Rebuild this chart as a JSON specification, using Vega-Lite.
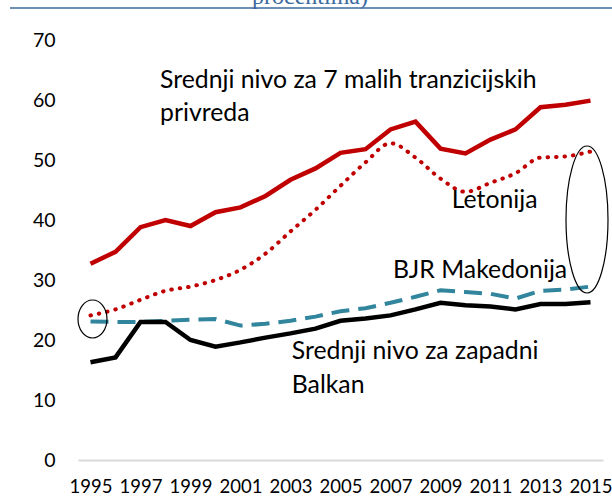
{
  "$schema": "https://vega.github.io/schema/vega-lite/v6.json",
  "autosize": "none",
  "width": 525,
  "height": 420,
  "padding": {"left": 78, "top": 40, "right": 9, "bottom": 38},
  "background": "white",
  "config": {"view": {"stroke": null}},
  "datasets": {
    "series": [
      {"year": 1995, "tranz": 32.7, "let": 24.1, "mkd": 23.1, "zb": 16.3},
      {"year": 1996, "tranz": 34.7, "let": 25.1, "mkd": 23.0, "zb": 17.1},
      {"year": 1997, "tranz": 38.8, "let": 26.7, "mkd": 23.0, "zb": 23.0},
      {"year": 1998, "tranz": 40.0, "let": 28.2, "mkd": 23.2, "zb": 23.0},
      {"year": 1999, "tranz": 39.0, "let": 28.9, "mkd": 23.4, "zb": 20.0},
      {"year": 2000, "tranz": 41.3, "let": 30.0, "mkd": 23.5, "zb": 18.9},
      {"year": 2001, "tranz": 42.1, "let": 31.7, "mkd": 22.4, "zb": 19.6},
      {"year": 2002, "tranz": 44.0, "let": 34.4, "mkd": 22.7, "zb": 20.4},
      {"year": 2003, "tranz": 46.7, "let": 38.1, "mkd": 23.2, "zb": 21.1},
      {"year": 2004, "tranz": 48.6, "let": 41.7, "mkd": 23.9, "zb": 21.9},
      {"year": 2005, "tranz": 51.2, "let": 45.7, "mkd": 24.8, "zb": 23.2},
      {"year": 2006, "tranz": 51.8, "let": 49.6, "mkd": 25.3, "zb": 23.6},
      {"year": 2007, "tranz": 55.1, "let": 52.8, "mkd": 26.2, "zb": 24.1},
      {"year": 2008, "tranz": 56.4, "let": 50.4, "mkd": 27.2, "zb": 25.1},
      {"year": 2009, "tranz": 51.9, "let": 46.9, "mkd": 28.3, "zb": 26.2},
      {"year": 2010, "tranz": 51.1, "let": 44.7, "mkd": 28.0, "zb": 25.8},
      {"year": 2011, "tranz": 53.4, "let": 46.2, "mkd": 27.7, "zb": 25.6},
      {"year": 2012, "tranz": 55.1, "let": 47.8, "mkd": 26.9, "zb": 25.1},
      {"year": 2013, "tranz": 58.8, "let": 50.4, "mkd": 28.2, "zb": 26.0},
      {"year": 2014, "tranz": 59.2, "let": 50.6, "mkd": 28.4, "zb": 26.0},
      {"year": 2015, "tranz": 59.9, "let": 51.4, "mkd": 28.9, "zb": 26.3}
    ],
    "notes": [
      {"id": "a", "label": "Srednji nivo za 7 malih tranzicijskih", "year": 1997.78, "val": 61.95},
      {"id": "a", "label": "privreda", "year": 1997.78, "val": 56.45},
      {"id": "a", "label": "Srednji nivo za zapadni", "year": 2003.05, "val": 16.83},
      {"id": "a", "label": "Balkan", "year": 2003.05, "val": 11.2},
      {"id": "a", "label": "Letonija", "year": 2009.45, "val": 42.0},
      {"id": "a", "label": "BJR Makedonija", "year": 2007.1, "val": 30.28},
      {"id": "t", "label": "procentima)", "year": 2003.78, "val": 76}
    ],
    "one": [{"k": 1}]
  },
  "layer": [
    {
      "data": {"name": "series"},
      "mark": {"type": "line", "color": "#31859c", "strokeWidth": 4, "strokeDash": [18, 9]},
      "encoding": {
        "x": {
          "field": "year", "type": "quantitative",
          "scale": {"domain": [1994.5, 2015.5], "nice": false, "zero": false},
          "axis": {
            "title": null, "grid": false, "ticks": false,
            "domainColor": "#d9d9d9", "domainWidth": 2,
            "values": [1995, 1997, 1999, 2001, 2003, 2005, 2007, 2009, 2011, 2013, 2015],
            "format": "d", "labelFlush": false, "labelOverlap": false,
            "labelFontSize": 18.5, "labelColor": "#000000", "labelPadding": 17, "labelFont": "Lato"
          }
        },
        "y": {
          "field": "mkd", "type": "quantitative",
          "scale": {"domain": [0, 70], "nice": false},
          "axis": {
            "title": null, "grid": false, "ticks": false, "domain": false,
            "values": [0, 10, 20, 30, 40, 50, 60, 70], "labelFlush": false,
            "labelFontSize": 19.5, "labelColor": "#000000", "labelPadding": 23, "labelFont": "Lato"
          }
        }
      }
    },
    {
      "data": {"name": "series"},
      "mark": {"type": "line", "color": "#000000", "strokeWidth": 4.5},
      "encoding": {"x": {"field": "year", "type": "quantitative"}, "y": {"field": "zb", "type": "quantitative"}}
    },
    {
      "data": {"name": "series"},
      "mark": {"type": "line", "color": "#c00000", "strokeWidth": 4, "strokeDash": [0.5, 8], "strokeCap": "round", "interpolate": "monotone"},
      "encoding": {"x": {"field": "year", "type": "quantitative"}, "y": {"field": "let", "type": "quantitative"}}
    },
    {
      "data": {"name": "series"},
      "mark": {"type": "line", "color": "#c00000", "strokeWidth": 4.5},
      "encoding": {"x": {"field": "year", "type": "quantitative"}, "y": {"field": "tranz", "type": "quantitative"}}
    },
    {
      "data": {"name": "notes"},
      "transform": [{"filter": "datum.id == 'a'"}],
      "mark": {"type": "text", "align": "left", "baseline": "alphabetic", "fontSize": 24.8, "font": "Lato", "color": "#000000"},
      "encoding": {
        "x": {"field": "year", "type": "quantitative"},
        "y": {"field": "val", "type": "quantitative"},
        "text": {"field": "label", "type": "nominal"}
      }
    },
    {
      "data": {"name": "notes"},
      "transform": [{"filter": "datum.id == 't'"}],
      "mark": {"type": "text", "align": "center", "baseline": "alphabetic", "fontSize": 24, "font": "Liberation Serif", "color": "#3b6a9e"},
      "encoding": {
        "x": {"field": "year", "type": "quantitative"},
        "y": {"field": "val", "type": "quantitative"},
        "text": {"field": "label", "type": "nominal"}
      }
    },
    {
      "data": {"name": "one"},
      "mark": {"type": "rule", "color": "#3b6a9e", "strokeWidth": 1.5},
      "encoding": {"x": {"datum": 1991.78}, "x2": {"datum": 2015.86}, "y": {"datum": 75.33}}
    },
    {
      "data": {"name": "one"},
      "mark": {"type": "point", "filled": false, "stroke": "#000000", "strokeWidth": 1.2, "opacity": 1, "size": 21609,
        "shape": "M0,-1A0.2857,1,0,1,1,0,1A0.2857,1,0,1,1,0,-1Z"},
      "encoding": {"x": {"datum": 2014.86}, "y": {"datum": 40.08}}
    },
    {
      "data": {"name": "one"},
      "mark": {"type": "point", "filled": false, "stroke": "#000000", "strokeWidth": 1.2, "opacity": 1, "size": 1444,
        "shape": "M0,-1A0.763,1,0,1,1,0,1A0.763,1,0,1,1,0,-1Z"},
      "encoding": {"x": {"datum": 1995.08}, "y": {"datum": 23.5}}
    }
  ]
}
